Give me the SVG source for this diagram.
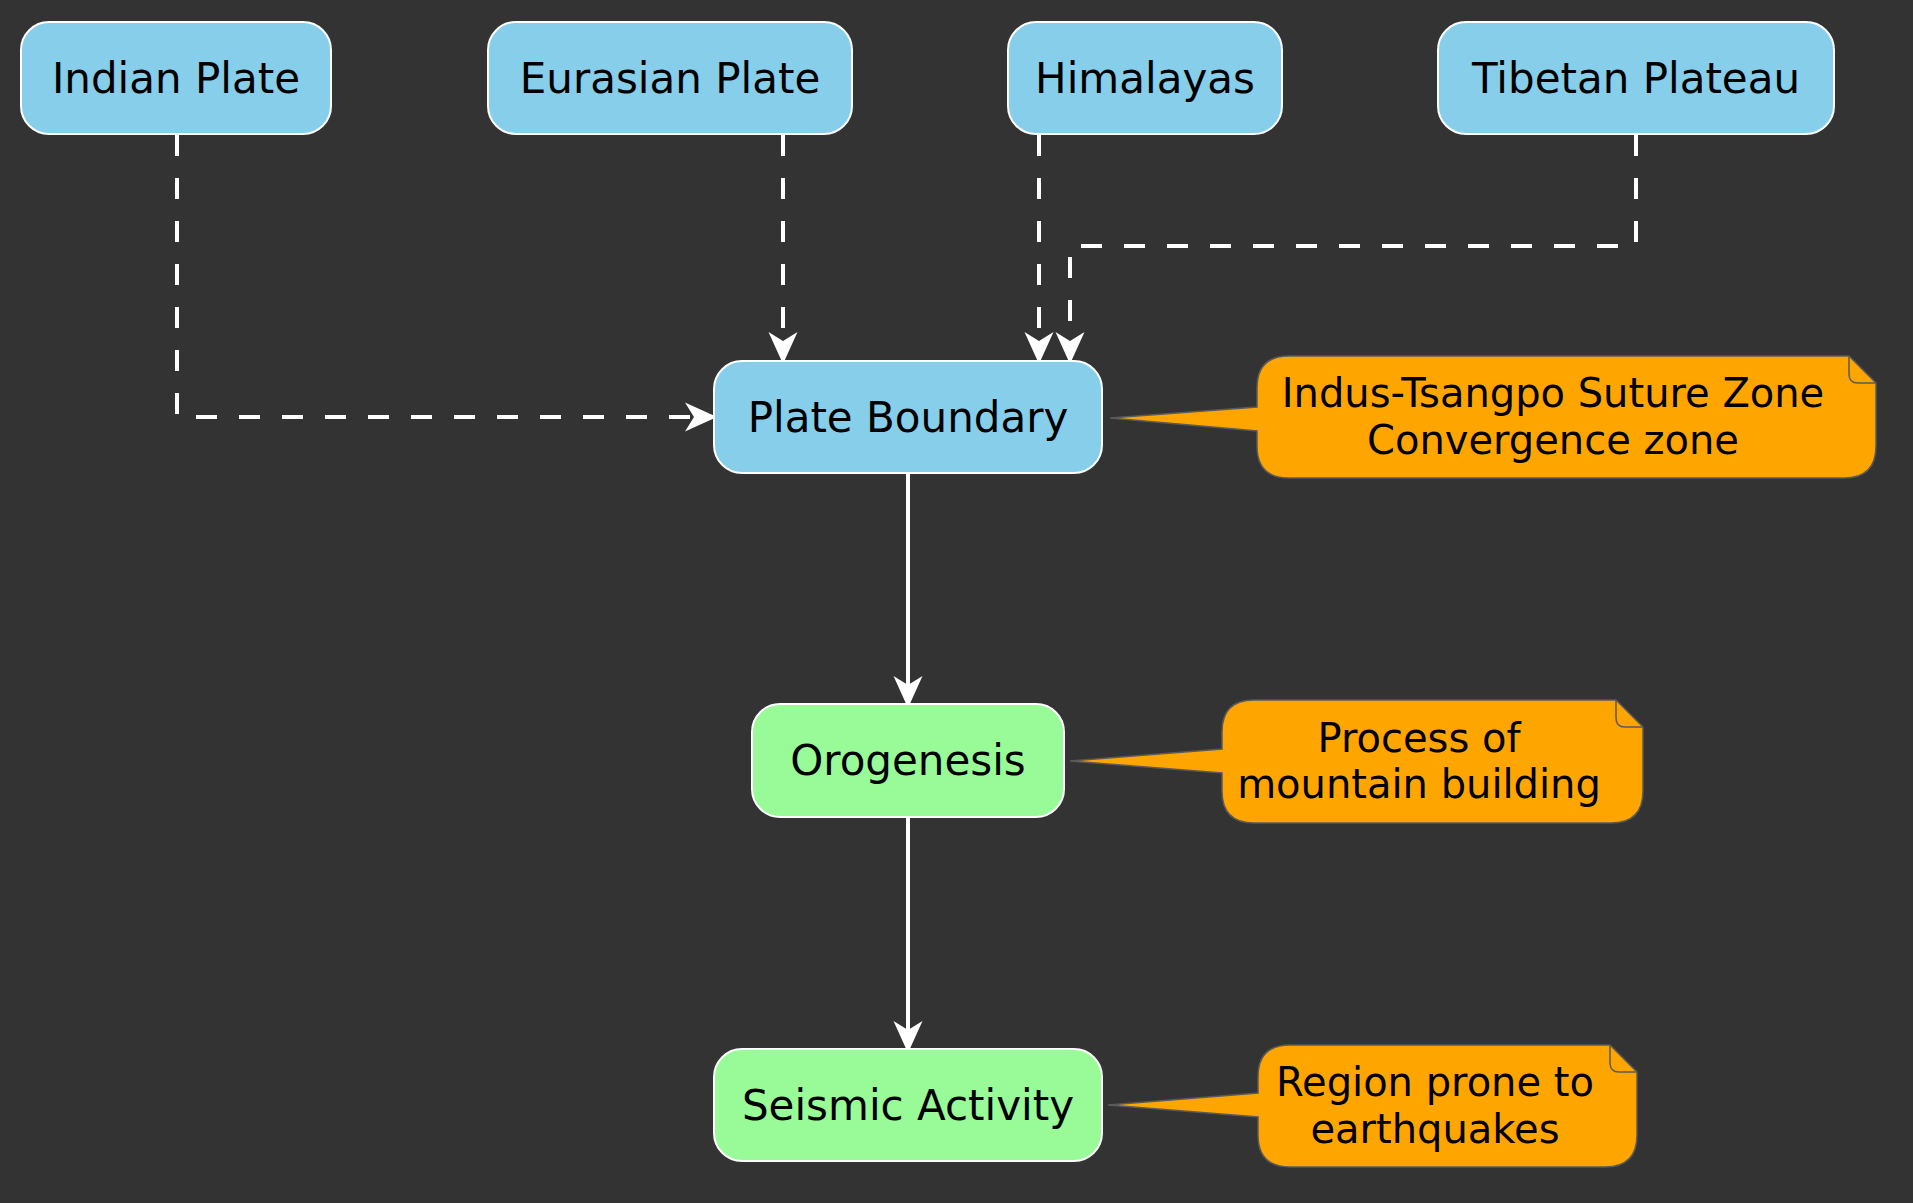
<svg xmlns="http://www.w3.org/2000/svg" width="1913" height="1203" viewBox="0 0 1913 1203">
<style>
.bg{fill:#333333}
.node rect{stroke:#ffffff;stroke-width:2}
.blue rect{fill:#87CEEB}
.green rect{fill:#98FB98}
.node text,.note text{font-family:"DejaVu Sans",Verdana,sans-serif;fill:#000;text-anchor:middle}
.node text{font-size:42px}
.note text{font-size:40px}
.note path.body{fill:#FFA500;stroke:#5a5a5a;stroke-width:1.5}
.note path.fold{fill:none;stroke:#5a5a5a;stroke-width:1.5}
.edge{fill:none;stroke:#ffffff;stroke-width:4}
.dash{stroke-dasharray:21 22}
</style>
<defs>
<marker id="vee" viewBox="-34 -16 36 32" refX="0" refY="0" markerWidth="36" markerHeight="32" markerUnits="userSpaceOnUse" orient="auto">
<path d="M0,0 L-32,-14.5 L-23,0 L-32,14.5 Z" fill="#ffffff"/>
</marker>
</defs>
<rect class="bg" x="0" y="0" width="1913" height="1203"/>

<g id="edges">
<path class="edge dash" d="M177,135 V417 H717" marker-end="url(#vee)"/>
<path class="edge dash" d="M783,135 V364" marker-end="url(#vee)"/>
<path class="edge dash" d="M1039,135 V364" marker-end="url(#vee)"/>
<path class="edge dash" d="M1636,135 V246 H1070 V364" marker-end="url(#vee)"/>
<path class="edge" d="M908,474 V708" marker-end="url(#vee)"/>
<path class="edge" d="M908,818 V1053" marker-end="url(#vee)"/>
</g>

<g id="indian-plate" class="node blue">
<rect x="21" y="22" width="310" height="112" rx="28"/>
<text x="176" y="93">Indian Plate</text>
</g>
<g id="eurasian-plate" class="node blue">
<rect x="488" y="22" width="364" height="112" rx="28"/>
<text x="670" y="93">Eurasian Plate</text>
</g>
<g id="himalayas" class="node blue">
<rect x="1008" y="22" width="274" height="112" rx="28"/>
<text x="1145" y="93">Himalayas</text>
</g>
<g id="tibetan-plateau" class="node blue">
<rect x="1438" y="22" width="396" height="112" rx="28"/>
<text x="1636" y="93">Tibetan Plateau</text>
</g>
<g id="plate-boundary" class="node blue">
<rect x="714" y="361" width="388" height="112" rx="28"/>
<text x="908" y="432">Plate Boundary</text>
</g>
<g id="orogenesis" class="node green">
<rect x="752" y="704" width="312" height="113" rx="28"/>
<text x="908" y="775">Orogenesis</text>
</g>
<g id="seismic-activity" class="node green">
<rect x="714" y="1049" width="388" height="112" rx="28"/>
<text x="908" y="1120">Seismic Activity</text>
</g>

<g id="note-plate-boundary" class="note">
<path class="body" d="M1289,356 H1849 L1876,383 V446 Q1876,478 1844,478 H1289 Q1257,478 1257,446 V431 L1110,418 L1257,407 V388 Q1257,356 1289,356 Z"/>
<path class="fold" d="M1849,356 V374 Q1849,383 1858,383 H1876"/>
<text x="1553" y="407">Indus-Tsangpo Suture Zone</text>
<text x="1553" y="454">Convergence zone</text>
</g>
<g id="note-orogenesis" class="note">
<path class="body" d="M1254,700 H1616 L1643,727 V791 Q1643,823 1611,823 H1254 Q1222,823 1222,791 V773 L1070,761 L1222,749 V732 Q1222,700 1254,700 Z"/>
<path class="fold" d="M1616,700 V718 Q1616,727 1625,727 H1643"/>
<text x="1419" y="752">Process of</text>
<text x="1419" y="798">mountain building</text>
</g>
<g id="note-seismic" class="note">
<path class="body" d="M1290,1045 H1610 L1637,1072 V1135 Q1637,1167 1605,1167 H1290 Q1258,1167 1258,1135 V1117 L1108,1105 L1258,1093 V1077 Q1258,1045 1290,1045 Z"/>
<path class="fold" d="M1610,1045 V1063 Q1610,1072 1619,1072 H1637"/>
<text x="1435" y="1096">Region prone to</text>
<text x="1435" y="1143">earthquakes</text>
</g>
</svg>
